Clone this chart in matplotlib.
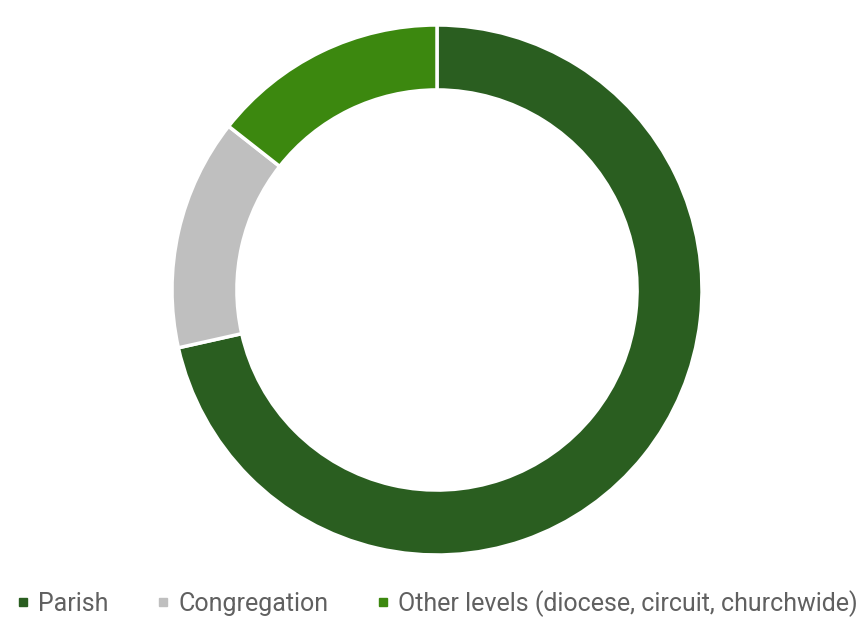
import matplotlib
matplotlib.use("Agg")
import matplotlib.pyplot as plt
from matplotlib.lines import Line2D

categories = ["Parish", "Congregation", "Other levels (diocese, circuit, churchwide)"]
values = [71.5, 14.1, 14.4]
colors = ["#2A5E20", "#BFBFBF", "#3C880F"]

plt.rcParams['font.family'] = ['Roboto', 'DejaVu Sans']

fig = plt.figure(figsize=(8.67, 6.17), dpi=100)
ax = fig.add_axes([(437 - 265) / 867, (617 - 555) / 617, 530 / 867, 530 / 617])
ax.pie(values, colors=colors, startangle=90, counterclock=False, radius=1.0,
       wedgeprops=dict(width=0.245, edgecolor="white", linewidth=2.5))
ax.set_xlim(-1, 1)
ax.set_ylim(-1, 1)
ax.set_aspect("equal")
ax.axis("off")

handles = [Line2D([0], [0], marker="s", linestyle="none", markersize=6,
                  markerfacecolor=c, markeredgecolor=c) for c in colors]
fig.legend(handles, categories, loc="center left", bbox_to_anchor=(-0.001, 0.022),
           ncol=3, frameon=False, fontsize=18, labelcolor="#606060",
           handlelength=0.5, handletextpad=0.35, columnspacing=1.95,
           borderpad=0.2)

fig.savefig("out.png", dpi=100)
